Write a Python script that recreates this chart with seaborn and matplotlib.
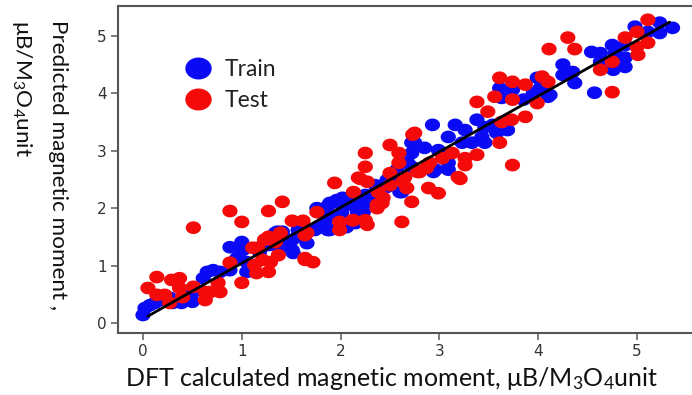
import numpy as np
import pandas as pd
import matplotlib
matplotlib.use("Agg")
import matplotlib.pyplot as plt
from matplotlib.path import Path
from matplotlib.lines import Line2D
import seaborn as sns

train_x = [0.00, 0.02, 0.07, 0.12, 0.20, 0.30, 0.39, 0.50, 0.65, 0.71, 0.61, 0.78, 0.88, 1.00, 1.01, 0.95,
           1.05, 0.88, 1.05, 1.18, 1.36, 1.29, 0.51, 0.27,
           1.29, 1.41, 1.52, 1.56, 1.76, 1.79, 1.89, 1.96, 2.02, 2.10, 2.23, 2.23, 2.37, 2.47, 2.57, 1.89,
           2.06, 2.17, 1.39, 1.66,
           2.72, 2.68, 2.58, 2.60, 2.47, 2.35, 2.25, 2.35, 2.07, 1.99, 1.91, 1.86, 1.79, 1.89, 2.01, 1.84,
           1.74, 1.87, 1.57, 1.51, 1.42, 1.34, 1.51, 1.27, 2.17, 2.15,
           3.61, 3.74, 3.99, 4.02, 4.10, 3.63, 3.85, 2.93, 3.16, 3.26, 3.38, 3.46, 3.54, 3.58, 3.69, 3.43,
           3.09, 3.33, 3.23, 3.46, 2.85, 2.99, 2.75, 2.72, 3.09, 2.96, 2.72,
           5.36, 5.23, 5.23, 5.11, 4.98, 4.88, 4.75, 4.78, 4.88, 4.88, 4.76, 4.63, 4.54, 4.63, 4.25, 4.25,
           4.35, 4.37, 4.57, 4.12, 3.09, 2.94, 2.62, 3.95, 4.05]
train_y = [0.14, 0.26, 0.31, 0.35, 0.40, 0.35, 0.35, 0.37, 0.89, 0.92, 0.78, 0.89, 1.32, 1.41, 1.27, 1.13,
           1.06, 0.92, 0.89, 1.24, 1.59, 1.36, 0.54, 0.44,
           1.50, 1.59, 1.22, 1.50, 2.00, 1.67, 2.09, 2.14, 2.18, 2.06, 2.06, 1.93, 2.26, 2.37, 2.67, 1.62,
           1.67, 1.92, 1.32, 1.39,
           3.14, 2.79, 2.49, 2.28, 2.49, 2.40, 2.23, 2.18, 2.14, 2.11, 2.09, 2.02, 1.93, 1.88, 1.92, 1.74,
           1.62, 1.62, 1.62, 1.45, 1.39, 1.57, 1.27, 1.36, 2.06, 1.74,
           4.09, 4.06, 4.27, 4.09, 3.94, 3.92, 3.89, 3.45, 3.45, 3.36, 3.54, 3.41, 3.45, 3.31, 3.36, 3.24,
           3.24, 3.14, 3.14, 3.14, 3.05, 3.01, 3.14, 2.96, 2.79, 2.67, 2.72,
           5.14, 5.23, 5.05, 5.07, 5.16, 4.84, 4.84, 4.70, 4.62, 4.46, 4.41, 4.55, 4.72, 4.70, 4.50, 4.32,
           4.37, 4.18, 4.01, 3.97, 2.67, 2.63, 2.28, 4.00, 4.15]

test_x = [0.51, 0.14, 0.05, 0.14, 0.22, 0.29, 0.37, 0.37, 0.51, 0.40, 0.27, 0.63, 0.63, 0.76, 0.78, 0.68,
          0.88, 1.00, 1.15, 1.27, 1.21, 1.16, 1.23, 1.34, 1.00, 1.13, 1.29,
          0.88, 1.27, 1.41, 1.51, 1.62, 1.64, 1.72, 1.94, 2.25, 2.25, 2.20, 2.27, 2.13, 2.27, 2.12, 1.99,
          1.99, 2.37, 2.43, 2.62, 2.59, 2.59, 2.50, 2.63, 1.76, 1.64, 1.11,
          2.50, 2.73, 2.72, 2.18, 2.38, 2.50, 2.65, 2.67, 2.42, 2.37, 2.13, 2.25, 1.66, 1.39, 1.27, 1.37, 1.64,
          4.11, 3.61, 3.74, 3.87, 4.04, 4.10, 3.99, 3.74, 3.56, 3.38, 3.49, 3.73, 3.63, 3.87, 3.61, 3.74,
          3.38, 3.26, 3.26, 3.13, 3.03, 2.75, 2.87, 2.78, 3.19,
          5.11, 5.00, 4.88, 5.11, 5.00, 5.01, 4.75, 4.63, 4.30, 4.37, 4.75,
          3.21, 2.99, 2.89, 2.80, 2.90]
test_y = [1.66, 0.80, 0.61, 0.49, 0.49, 0.75, 0.78, 0.61, 0.63, 0.45, 0.35, 0.54, 0.40, 0.70, 0.54, 0.54,
          1.05, 0.70, 0.87, 0.89, 1.10, 1.31, 1.45, 1.41, 1.76, 1.01, 1.06,
          1.95, 1.95, 2.11, 1.78, 1.78, 1.10, 1.06, 2.44, 2.96, 2.72, 2.51, 2.46, 2.28, 1.71, 1.79, 1.62,
          1.76, 2.06, 2.18, 1.76, 2.96, 2.79, 2.61, 2.46, 1.93, 1.53, 1.31,
          3.10, 3.28, 2.11, 2.53, 2.28, 2.40, 2.54, 2.35, 2.09, 2.00, 1.79, 1.79, 1.57, 1.57, 1.50, 1.18, 1.13,
          4.77, 4.27, 4.20, 4.15, 4.29, 4.20, 3.83, 3.89, 3.94, 3.85, 3.68, 3.54, 3.50, 3.59, 3.14, 2.75,
          2.93, 2.87, 2.75, 2.96, 2.87, 3.31, 2.70, 2.63, 2.54,
          5.28, 5.07, 4.97, 4.88, 4.81, 4.67, 4.55, 4.41, 4.97, 4.77, 4.02,
          2.51, 2.26, 2.35, 2.63, 2.79]

line_x = [0.05, 5.33]
line_y = [0.12, 5.24]

x_ticks = [0, 1, 2, 3, 4, 5]
y_ticks = [0, 1, 2, 3, 4, 5]

df = pd.DataFrame({
    "x": train_x + test_x,
    "y": train_y + test_y,
    "set": ["Train"] * len(train_x) + ["Test"] * len(test_x),
})

sns.set_theme(style="white")
plt.rcParams['font.family'] = ['DejaVu Sans']
plt.rcParams['mathtext.fontset'] = 'custom'
plt.rcParams['mathtext.rm'] = 'Lato'
plt.rcParams['mathtext.it'] = 'Lato'

BLUE = "#0a0af5"
RED = "#f50a0a"

W, H = 692, 395
fig = plt.figure(figsize=(W / 100, H / 100), dpi=100)
ax = fig.add_axes([118 / W, 1 - 333 / H, (W - 118) / W, (333 - 6) / H])

t = np.linspace(0, 2 * np.pi, 60)
ellipse = Path(np.column_stack([1.2 * np.cos(t), np.sin(t)]), closed=True)

sns.scatterplot(data=df, x="x", y="y", hue="set", palette={"Train": BLUE, "Test": RED},
                marker=ellipse, s=120, linewidth=0, ax=ax, legend=False, zorder=2)
sns.lineplot(x=line_x, y=line_y, color="black", linewidth=2.0, ax=ax, zorder=3)

ax.set_xlim(-0.253, 5.557)
ax.set_ylim(-0.174, 5.52)
ax.set_xticks(x_ticks)
ax.set_yticks(y_ticks)
ax.set_xlabel("")
ax.set_ylabel("")
ax.tick_params(axis="both", which="major", direction="out", length=5, width=1.2, color="#666666",
               labelsize=11, labelcolor="#333333", bottom=True, left=True, pad=3)
for side in ["left", "bottom", "top"]:
    ax.spines[side].set_color("#555555")
    ax.spines[side].set_linewidth(1.5)
ax.spines["right"].set_visible(False)

handles = [Line2D([], [], linestyle="none", marker=ellipse, markersize=19, color=BLUE, markeredgewidth=0),
           Line2D([], [], linestyle="none", marker=ellipse, markersize=19, color=RED, markeredgewidth=0)]
leg = ax.legend(handles, ["Train", "Test"], loc="upper left", bbox_to_anchor=(183 / W, 1 - 59 / H),
                bbox_transform=fig.transFigure, frameon=False, handlelength=1.3, handletextpad=0.5,
                labelspacing=0.45, borderpad=0, borderaxespad=0,
                prop={"family": "Lato", "size": 16.5})
for txt in leg.get_texts():
    txt.set_color("#222222")

fig.text(392 / W, 1 - 379 / H, r"DFT calculated magnetic moment, μB/M$_3$O$_4$unit", ha="center",
         va="center", fontsize=18, family="Lato", color="#111111")
fig.text(58 / W, 1 - 20 / H, "Predicted magnetic moment ,", rotation=270, ha="center", va="top",
         fontsize=16.2, family="Lato", color="#111111")
fig.text(22 / W, 1 - 20 / H, r"μB/M$_3$O$_4$unit", rotation=270, ha="center", va="top",
         fontsize=16.2, family="Lato", color="#111111")

fig.savefig("out.png", dpi=100)
